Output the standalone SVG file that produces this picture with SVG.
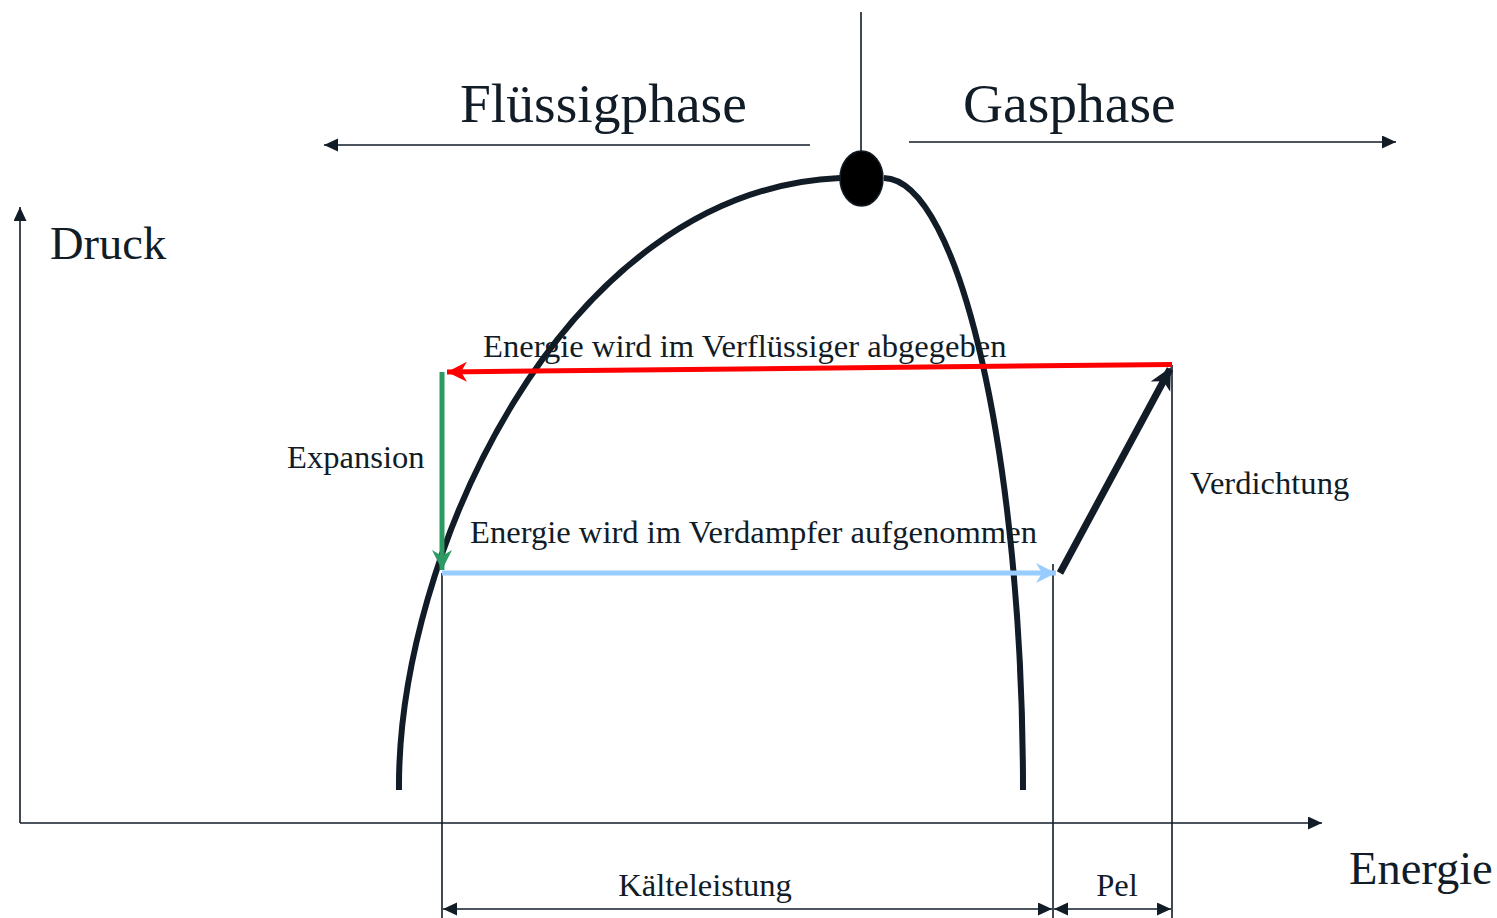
<svg xmlns="http://www.w3.org/2000/svg" width="1497" height="918" viewBox="0 0 1497 918">
<style>
.t{font-family:"Liberation Serif","Times New Roman",serif;fill:#111c27}
.big{font-size:55.5px}
.mid{font-size:46.5px}
.sm{font-size:32.6px}
.thin{stroke:#111c27;stroke-width:1.6;fill:none}
.dome{stroke:#111c27;stroke-width:6;fill:none}
</style>
<defs>
<marker id="ah" markerUnits="userSpaceOnUse" markerWidth="16" markerHeight="14" refX="14" refY="6.5" orient="auto-start-reverse"><path d="M0,0 L14,6.5 L0,13 z" fill="#111c27"/></marker>
<marker id="red" markerUnits="userSpaceOnUse" markerWidth="22" markerHeight="22" refX="20" refY="10" orient="auto"><path d="M0,0 L20,10 L0,20 L6,10 z" fill="#ff0000"/></marker>
<marker id="green" markerUnits="userSpaceOnUse" markerWidth="22" markerHeight="22" refX="20" refY="10" orient="auto"><path d="M0,0 L20,10 L0,20 L6,10 z" fill="#2e9a63"/></marker>
<marker id="blue" markerUnits="userSpaceOnUse" markerWidth="22" markerHeight="22" refX="20" refY="10" orient="auto"><path d="M0,0 L20,10 L0,20 L6,10 z" fill="#99ccff"/></marker>
<marker id="black" markerUnits="userSpaceOnUse" markerWidth="24" markerHeight="24" refX="20" refY="11" orient="auto"><path d="M0,0 L22,11 L0,22 L6,11 z" fill="#111c27"/></marker>
</defs>
<rect width="1497" height="918" fill="#fff"/>
<g id="axes">
<line class="thin" x1="20" y1="823" x2="20" y2="207" marker-end="url(#ah)"/>
<line class="thin" x1="20" y1="823" x2="1322" y2="823" marker-end="url(#ah)"/>
<text class="t mid" x="50" y="259">Druck</text>
<text class="t mid" x="1349" y="884">Energie</text>
</g>
<g id="phases">
<line class="thin" x1="861" y1="12" x2="861" y2="152"/>
<line class="thin" x1="810" y1="145" x2="324" y2="145" marker-end="url(#ah)"/>
<line class="thin" x1="909" y1="142" x2="1396" y2="142" marker-end="url(#ah)"/>
<text class="t big" x="460" y="122">Flüssigphase</text>
<text class="t big" x="963" y="122">Gasphase</text>
</g>
<g id="labels">
<text class="t sm" x="483" y="357">Energie wird im Verflüssiger abgegeben</text>
<text class="t sm" x="470" y="543">Energie wird im Verdampfer aufgenommen</text>
<text class="t sm" x="287" y="468">Expansion</text>
<text class="t sm" x="1190" y="494">Verdichtung</text>
</g>
<g id="dome">
<path class="dome" d="M399,790 C397,560 560,190 840,178"/>
<path class="dome" d="M884,178 C960,180 1023,460 1023,790"/>
<ellipse cx="861.5" cy="178.5" rx="21.5" ry="27.5" fill="#000" stroke="#111c27" stroke-width="1.5"/>
</g>
<g id="connectors">
<line class="thin" x1="442" y1="573" x2="442" y2="918"/>
<line class="thin" x1="1053" y1="564" x2="1053" y2="918"/>
<line class="thin" x1="1172" y1="365" x2="1172" y2="918"/>
<line x1="1172" y1="364.5" x2="447" y2="372" stroke="#ff0000" stroke-width="5" marker-end="url(#red)"/>
<line x1="442" y1="372" x2="442" y2="570" stroke="#2e9a63" stroke-width="5" marker-end="url(#green)"/>
<line x1="442" y1="573" x2="1056" y2="573" stroke="#99ccff" stroke-width="5" marker-end="url(#blue)"/>
<line x1="1060" y1="573" x2="1170" y2="369" stroke="#111c27" stroke-width="7" marker-end="url(#black)"/>
<line class="thin" x1="443" y1="909" x2="1052" y2="909" marker-start="url(#ah)" marker-end="url(#ah)"/>
<line class="thin" x1="1054" y1="909" x2="1171" y2="909" marker-start="url(#ah)" marker-end="url(#ah)"/>
</g>
<g id="dims">
<text class="t sm" x="705" y="896" text-anchor="middle">Kälteleistung</text>
<text class="t sm" x="1117" y="896" text-anchor="middle">Pel</text>
</g>
</svg>
